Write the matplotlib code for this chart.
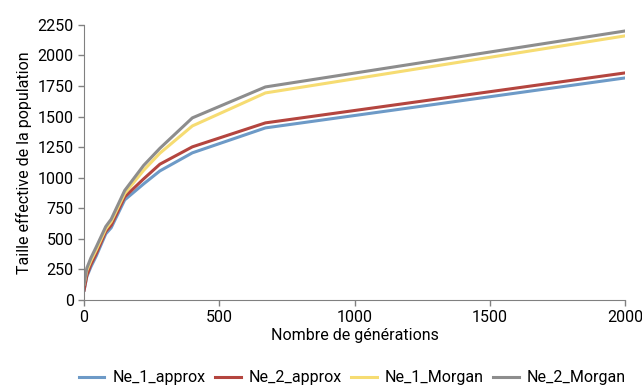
import matplotlib
matplotlib.use("Agg")
import matplotlib.pyplot as plt

generations = [0, 10, 25, 45, 80, 100, 150, 220, 280, 400, 670, 2000]
ne_1_approx = [80, 190, 270, 360, 540, 590, 818, 949, 1055, 1203, 1407, 1816]
ne_2_approx = [80, 200, 290, 380, 560, 610, 843, 990, 1110, 1252, 1448, 1857]
ne_1_morgan = [130, 240, 320, 410, 580, 640, 870, 1060, 1200, 1423, 1693, 2160]
ne_2_morgan = [130, 260, 343, 434, 600, 660, 895, 1100, 1240, 1489, 1742, 2200]

series = [("Ne_1_approx", ne_1_approx, "#6d9ac7"),
          ("Ne_2_approx", ne_2_approx, "#b4453f"),
          ("Ne_1_Morgan", ne_1_morgan, "#f6dc72"),
          ("Ne_2_Morgan", ne_2_morgan, "#8d8d8d")]

plt.rcParams['font.family'] = ['Roboto', 'DejaVu Sans']

fig = plt.figure(figsize=(6.42, 3.88), dpi=100)
ax = fig.add_axes([0.131, 0.227, 0.843, 0.709])

for name, vals, col in series:
    ax.plot(generations, vals, color=col, lw=2.2, label=name)

ax.set_xlim(0, 2000)
ax.set_ylim(0, 2250)
ax.set_xticks([0, 500, 1000, 1500, 2000])
ax.set_yticks(range(0, 2251, 250))
for s in ["top", "right"]:
    ax.spines[s].set_visible(False)
for s in ["left", "bottom"]:
    ax.spines[s].set_color("#808080")
ax.tick_params(colors="#808080", labelcolor="black", labelsize=11.5, length=4, width=1)

ax.set_xlabel("Nombre de générations", fontsize=11.5, labelpad=2)
ax.set_ylabel("Taille effective de la population", fontsize=11.5, labelpad=4)

fig.legend(loc="lower center", bbox_to_anchor=(0.549, -0.03), ncol=4, frameon=False,
           fontsize=11.5, handlelength=1.6, columnspacing=0.6, handletextpad=0.5)

fig.savefig("out.png", dpi=100)
